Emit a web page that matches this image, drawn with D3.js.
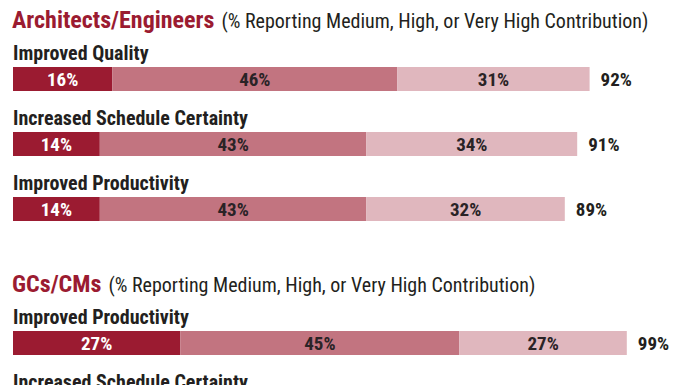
<!DOCTYPE html>
<html>
<head>
<meta charset="utf-8">
<script src="https://cdn.jsdelivr.net/npm/d3@7"></script>
<style>
  html, body { margin: 0; padding: 0; background: #fff; }
  svg { display: block; }
  text { font-family: "Roboto Condensed", Roboto, "Liberation Sans Narrow", sans-serif; }
</style>
</head>
<body>
<svg id="chart" width="696" height="385"></svg>
<script>
// ---- Data ----
const groups = ["Architects/Engineers", "GCs/CMs"];
const subtitle = "(% Reporting Medium, High, or Very High Contribution)";
const aeCategories = ["Improved Quality", "Increased Schedule Certainty", "Improved Productivity"];
const aeVeryHigh = [16, 14, 14];
const aeHigh = [46, 43, 43];
const aeMedium = [31, 34, 32];
const aeTotal = [92, 91, 89];
const gcCategories = ["Improved Productivity", "Increased Schedule Certainty"];
const gcVeryHigh = [27];
const gcHigh = [45];
const gcMedium = [27];
const gcTotal = [99];
const levels = ["Very High", "High", "Medium"];

// ---- Setup ----
const svg = d3.select("#chart");
const x = d3.scaleLinear().domain([0, 100]).range([13, 633]);
const color = d3.scaleOrdinal().domain(levels).range(["#9b1b31", "#c27480", "#e0b7be"]);
const textColor = d3.scaleOrdinal().domain(levels).range(["#ffffff", "#2a2326", "#2a2326"]);
const barH = 24;
const rowStep = 65;

function cText(g, str, px, py, opts) {
  return g.append("text")
    .attr("x", px).attr("y", py)
    .attr("font-size", opts.size)
    .attr("font-weight", opts.weight || 400)
    .attr("fill", opts.fill || "#231f20")
    .attr("text-anchor", opts.anchor || "start")
    .text(str);
}

function drawGroup(name, cats, vh, hi, med, tot, barTop0) {
  const g = svg.append("g");
  const rowY = d3.scaleLinear().domain([0, 1]).range([barTop0, barTop0 + rowStep]);
  // title
  const titleY = rowY(0) - 39;
  const tt = g.append("text")
    .attr("x", 12).attr("y", titleY)
    .attr("font-size", 24).attr("font-weight", 700).attr("fill", "#9b1b31");
  tt.append("tspan").text(name);
  tt.append("tspan").attr("font-size", 20).attr("font-weight", 400).attr("fill", "#231f20")
    .attr("dx", 7).text(subtitle);

  cats.forEach((c, i) => {
    const top = rowY(i);
    cText(g, c, 13, top - 7, { size: 20, weight: 700 });
    if (i >= vh.length) return;
    const segs = [
      { k: levels[0], v: vh[i] },
      { k: levels[1], v: hi[i] },
      { k: levels[2], v: med[i] }
    ];
    let acc = 0;
    segs.forEach(s => { s.x0 = acc; acc += s.v; s.x1 = acc; });
    g.selectAll(null).data(segs).enter().append("rect")
      .attr("x", d => x(d.x0)).attr("y", top)
      .attr("width", d => x(d.x1) - x(d.x0)).attr("height", barH)
      .attr("fill", d => color(d.k));
    segs.forEach(s => {
      cText(g, s.v + "%", (x(s.x0) + x(s.x1)) / 2, top + barH / 2 + 6.5,
        { size: 19, weight: 700, anchor: "middle", fill: textColor(s.k) });
    });
    cText(g, tot[i] + "%", x(acc) + 11, top + barH / 2 + 6.5, { size: 19, weight: 700 });
  });
}

drawGroup(groups[0], aeCategories, aeVeryHigh, aeHigh, aeMedium, aeTotal, 67);
drawGroup(groups[1], gcCategories, gcVeryHigh, gcHigh, gcMedium, gcTotal, 331);
</script>
</body>
</html>
